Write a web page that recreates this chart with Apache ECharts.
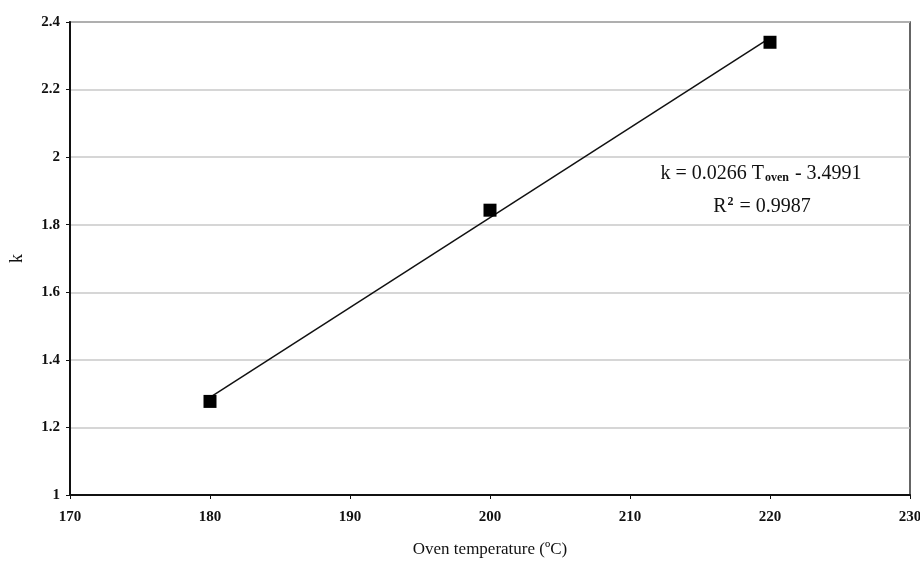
<!DOCTYPE html>
<html>
<head>
<meta charset="utf-8">
<script src="https://cdn.jsdelivr.net/npm/echarts@6/dist/echarts.min.js"></script>
<style>html,body{margin:0;padding:0;background:#fff}#c{width:920px;height:561px}</style>
</head>
<body>
<div id="c"></div>
<script>
var temps = [180, 200, 220];
var kValues = [1.277, 1.843, 2.34];
var trendX = [180, 220];
var trendY = [1.289, 2.353];
var xTicks = [170, 180, 190, 200, 210, 220, 230];
var yTicks = [1, 1.2, 1.4, 1.6, 1.8, 2, 2.2, 2.4];

var chart = echarts.init(document.getElementById('c'));
var serif = '"Liberation Serif", "DejaVu Serif", serif';
chart.setOption({
  animation: false,
  grid: { left: 70, top: 22, right: 10, bottom: 66, show: true, borderColor: '#333', borderWidth: 1.5,
          containLabel: false, outerBoundsMode: 'none' },
  xAxis: {
    type: 'value', min: 170, max: 230, interval: 10,
    name: 'Oven temperature (ºC)', nameLocation: 'middle', nameGap: 46,
    nameTextStyle: { fontFamily: serif, fontSize: 17, color: '#111' },
    axisLine: { show: true, lineStyle: { color: '#111', width: 2 } },
    axisTick: { show: true, inside: false, length: 4, lineStyle: { color: '#111' } },
    axisLabel: { fontFamily: serif, fontSize: 15, fontWeight: 'bold', color: '#111', margin: 15 },
    splitLine: { show: false }
  },
  yAxis: {
    type: 'value', min: 1, max: 2.4, interval: 0.2,
    name: 'k', nameLocation: 'middle', nameGap: 44,
    nameTextStyle: { fontFamily: serif, fontSize: 18, color: '#111' },
    axisLine: { show: true, lineStyle: { color: '#111', width: 2 } },
    axisTick: { show: true, inside: false, length: 4, lineStyle: { color: '#111' } },
    axisLabel: { fontFamily: serif, fontSize: 15, fontWeight: 'bold', color: '#111', margin: 10,
      formatter: function (v) { return String(Math.round(v * 10) / 10); } },
    splitLine: { show: true, lineStyle: { color: '#c8c8c8', width: 1.5 } }
  },
  series: [
    {
      type: 'line',
      data: trendX.map(function (x, i) { return [x, trendY[i]]; }),
      showSymbol: false, symbol: 'none',
      lineStyle: { color: '#111', width: 1.5 }, z: 2
    },
    {
      type: 'scatter',
      data: temps.map(function (x, i) { return [x, kValues[i]]; }),
      symbol: 'rect', symbolSize: 13,
      itemStyle: { color: '#000', opacity: 1 }, z: 3
    }
  ],
  graphic: [
    {
      type: 'text', x: 761, y: 163,
      style: {
        text: '{a|k = 0.0266 T}{s|oven}{a| - 3.4991}',
        textAlign: 'center',
        rich: {
          a: { fontFamily: serif, fontSize: 20, fill: '#111' },
          s: { fontFamily: serif, fontSize: 12, fontWeight: 'bold', fill: '#111', padding: [9, 1, 0, 1] }
        }
      }
    },
    {
      type: 'text', x: 762, y: 196,
      style: {
        text: '{a|R}{p|2}{a| = 0.9987}',
        textAlign: 'center',
        rich: {
          a: { fontFamily: serif, fontSize: 20, fill: '#111' },
          p: { fontFamily: serif, fontSize: 12, fontWeight: 'bold', fill: '#111', padding: [0, 1, 9, 1] }
        }
      }
    }
  ]
});
</script>
</body>
</html>
